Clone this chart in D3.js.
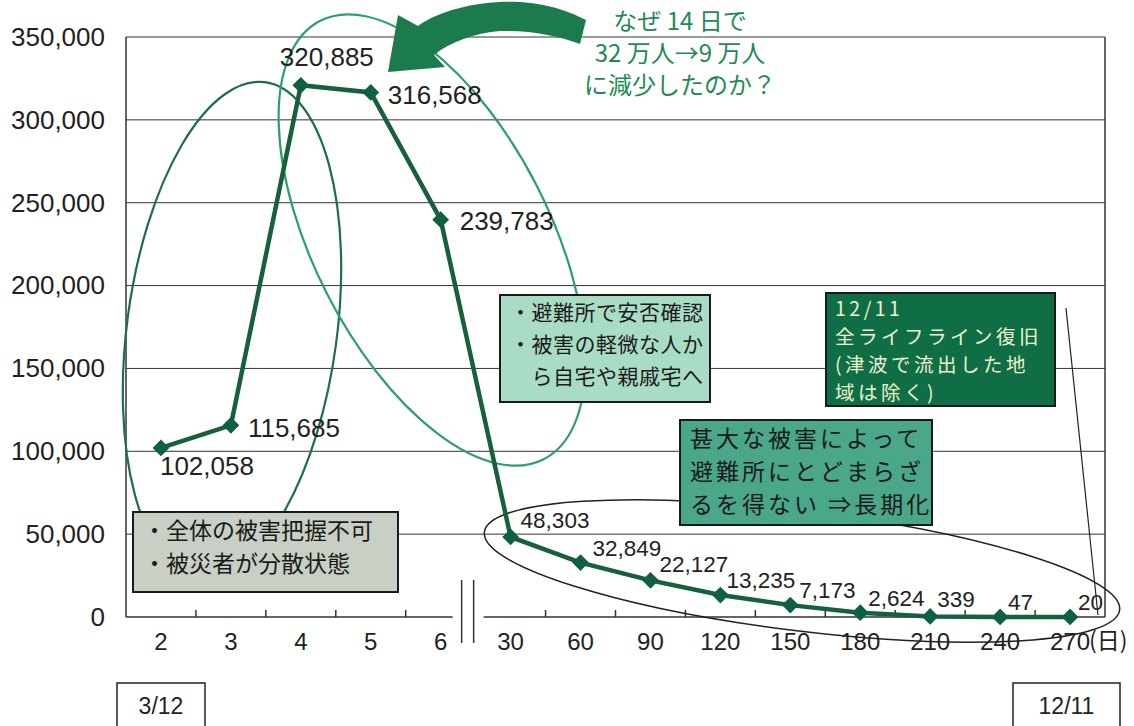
<!DOCTYPE html>
<meta charset="utf-8">
<style>
  body { margin: 0; background: #fff; }
  svg { display: block; }
  .num { font-family: "Liberation Sans", Arial, sans-serif; fill: #222; }
  .jp { font-family: "Noto Sans CJK JP", sans-serif; }
  .grid { stroke: #333; stroke-width: 1; }
  .axisLine { stroke: #333; stroke-width: 1.5; fill: none; }
</style>
<body>
<svg width="1134" height="726"></svg>
<script src="https://cdn.jsdelivr.net/npm/d3@7"></script>
<script>
  // data
  const days = ["2", "3", "4", "5", "6", "30", "60", "90", "120", "150", "180", "210", "240", "270"];
  const evacuees = [102058, 115685, 320885, 316568, 239783, 48303, 32849, 22127, 13235, 7173, 2624, 339, 47, 20];
  const yTicks = [0, 50000, 100000, 150000, 200000, 250000, 300000, 350000];
  const breakAfter = 4; // axis break between "6" and "30"

  // label placement relative to each point: dx, dy, font size
  const labelPos = [
    [-1, 27, 26], [17, 12, 26], [-21, -19, 26], [17, 12, 26], [19, 10, 26],
    [10, -9, 22.5], [12, -7, 22.5], [9, -8, 22.5], [6, -7, 22.5], [9, -7, 22.5],
    [8, -7, 22.5], [7, -9, 22.5], [8, -7, 22.5], [8, -7, 22.5]
  ];

  const svg = d3.select("svg");
  const pLeft = 126, pRight = 1105, pTop = 37, pBottom = 617;

  const x = d3.scaleBand().domain(days).range([pLeft, pRight]);
  const y = d3.scaleLinear().domain([0, 350000]).range([pBottom, pTop]);
  const cx = d => x(d) + x.bandwidth() / 2;

  // gridlines
  svg.append("g").selectAll("line")
    .data(yTicks.filter(d => d > 0))
    .join("line")
      .attr("class", "grid")
      .attr("x1", pLeft).attr("x2", pRight)
      .attr("y1", d => y(d)).attr("y2", d => y(d));

  // y axis
  const yAxis = svg.append("g")
    .attr("transform", `translate(${pLeft},0)`)
    .call(d3.axisLeft(y).tickValues(yTicks).tickSize(0).tickPadding(21).tickFormat(d3.format(",")));
  yAxis.select(".domain").remove();
  yAxis.selectAll("text").attr("class", "num").style("font-size", "26px").attr("fill", "#222");

  svg.append("line").attr("class", "axisLine")
    .attr("x1", pLeft).attr("x2", pLeft).attr("y1", pTop).attr("y2", pBottom);
  svg.append("line").attr("class", "axisLine")
    .attr("x1", pRight).attr("x2", pRight).attr("y1", pTop).attr("y2", pBottom);

  // x axis, two pieces with a break
  const breakX = x(days[breakAfter + 1]);
  svg.append("line").attr("class", "axisLine")
    .attr("x1", pLeft).attr("x2", breakX - 23).attr("y1", pBottom).attr("y2", pBottom);
  svg.append("line").attr("class", "axisLine")
    .attr("x1", breakX + 8).attr("x2", pRight).attr("y1", pBottom).attr("y2", pBottom);
  [breakX - 14, breakX - 2].forEach(bx => {
    svg.append("line").attr("class", "axisLine")
      .attr("x1", bx).attr("x2", bx).attr("y1", pBottom - 37).attr("y2", pBottom + 26);
  });
  svg.append("g").selectAll("line")
    .data(days.filter((d, i) => i > 0 && i !== breakAfter + 1))
    .join("line")
      .attr("class", "axisLine")
      .attr("x1", d => x(d)).attr("x2", d => x(d))
      .attr("y1", pBottom).attr("y2", pBottom - 7);

  svg.append("g").selectAll("text")
    .data(days)
    .join("text")
      .attr("class", "num")
      .attr("x", d => cx(d)).attr("y", pBottom + 33)
      .attr("text-anchor", "middle")
      .style("font-size", "24px")
      .text(d => d);
  svg.append("text").attr("class", "jp")
    .attr("x", cx("270") + 19).attr("y", pBottom + 32)
    .style("font-size", "23px").attr("fill", "#222")
    .text("(日)");

  // annotation ellipses
  svg.append("ellipse")
    .attr("cx", 232).attr("cy", 330).attr("rx", 105).attr("ry", 250)
    .attr("transform", "rotate(7.6,232,330)")
    .attr("fill", "none").attr("stroke", "#1d7045").attr("stroke-width", 2.2);
  svg.append("ellipse")
    .attr("cx", 432).attr("cy", 240).attr("rx", 118).attr("ry", 246)
    .attr("transform", "rotate(-27,432,240)")
    .attr("fill", "none").attr("stroke", "#2e9e72").attr("stroke-width", 2.2);
  svg.append("ellipse")
    .attr("cx", 802).attr("cy", 571).attr("rx", 320).attr("ry", 60)
    .attr("transform", "rotate(7,802,571)")
    .attr("fill", "none").attr("stroke", "#222").attr("stroke-width", 1.5);

  // pointer line from the 12/11 box
  svg.append("line")
    .attr("x1", 1066).attr("y1", 308).attr("x2", 1098).attr("y2", 615)
    .attr("stroke", "#222").attr("stroke-width", 1.2);

  // series line
  const line = d3.line().x((d, i) => cx(days[i])).y(d => y(d));
  svg.append("path")
    .datum(evacuees)
    .attr("fill", "none")
    .attr("stroke", "#17603b")
    .attr("stroke-width", 4.5)
    .attr("d", line);

  svg.append("g").selectAll("path")
    .data(evacuees)
    .join("path")
      .attr("d", d3.symbol(d3.symbolSquare, 140))
      .attr("transform", (d, i) => `translate(${cx(days[i])},${y(d)}) rotate(45)`)
      .attr("fill", "#0f6040");

  svg.append("g").selectAll("text")
    .data(evacuees)
    .join("text")
      .attr("class", "num")
      .attr("x", (d, i) => cx(days[i]) + labelPos[i][0])
      .attr("y", (d, i) => y(d) + labelPos[i][1])
      .style("font-size", (d, i) => labelPos[i][2] + "px")
      .text(d3.format(","));

  // boxes: one text element per box, lines as tspans
  function box(x0, y0, w, h, fill, lines, color, size, lh, spacing, pad, top) {
    svg.append("rect")
      .attr("x", x0).attr("y", y0).attr("width", w).attr("height", h)
      .attr("fill", fill).attr("stroke", "#1a1a1a").attr("stroke-width", 2);
    const t = svg.append("text")
      .attr("class", "jp")
      .attr("fill", color)
      .style("font-size", size + "px")
      .style("letter-spacing", (spacing || 0) + "px");
    t.selectAll("tspan")
      .data(lines)
      .join("tspan")
        .attr("x", x0 + (pad || 10))
        .attr("y", (d, i) => y0 + (top || 7) + size * 0.88 + i * lh)
        .text(d => d);
  }

  box(133, 512, 265, 80, "#c8cfc4", ["・全体の被害把握不可", "・被災者が分散状態"], "#1a1a1a", 23, 33, 0, 10);
  box(500, 295, 210, 107, "#a9dcc5", ["・避難所で安否確認", "・被害の軽微な人か", "　ら自宅や親戚宅へ"], "#1a1a1a", 21, 32, 0.5);
  box(826, 293, 229, 113, "#106e47", ["12/11", "全ライフライン復旧", "(津波で流出した地", "域は除く)"], "#eef3cf", 19.5, 28, 3.5, 9, 6);
  box(680, 420, 252, 105, "#4aa78a", ["甚大な被害によって", "避難所にとどまらざ", "るを得ない ⇒長期化"], "#1a1a1a", 23, 33, 3);

  // date boxes at the bottom
  [[117, "3/12"], [1013, "12/11"]].forEach(([bx, t], i) => {
    const w = i === 0 ? 88 : 107;
    svg.append("rect").attr("x", bx).attr("y", 683).attr("width", w).attr("height", 50)
      .attr("fill", "none").attr("stroke", "#222").attr("stroke-width", 1.5);
    svg.append("text").attr("class", "num")
      .attr("x", bx + w / 2).attr("y", 714).attr("text-anchor", "middle")
      .style("font-size", "23px").text(t);
  });

  // curved arrow and question
  svg.append("path")
    .attr("d", "M388,72 L398,15 L418,26 C440,10 480,0 520,2 C550,4 570,12 586,20 L580,44 C560,36 530,30 500,31 C475,33 450,42 434,55 L445,67 Z")
    .attr("fill", "#1b7b4c");

  svg.append("g").selectAll("text")
    .data(["なぜ 14 日で", "32 万人→9 万人", "に減少したのか？"])
    .join("text")
      .attr("class", "jp")
      .attr("x", 680).attr("y", (d, i) => 30 + i * 32)
      .attr("text-anchor", "middle")
      .attr("fill", "#1f8a55")
      .style("font-size", "24px")
      .text(d => d);
</script>
</body>
